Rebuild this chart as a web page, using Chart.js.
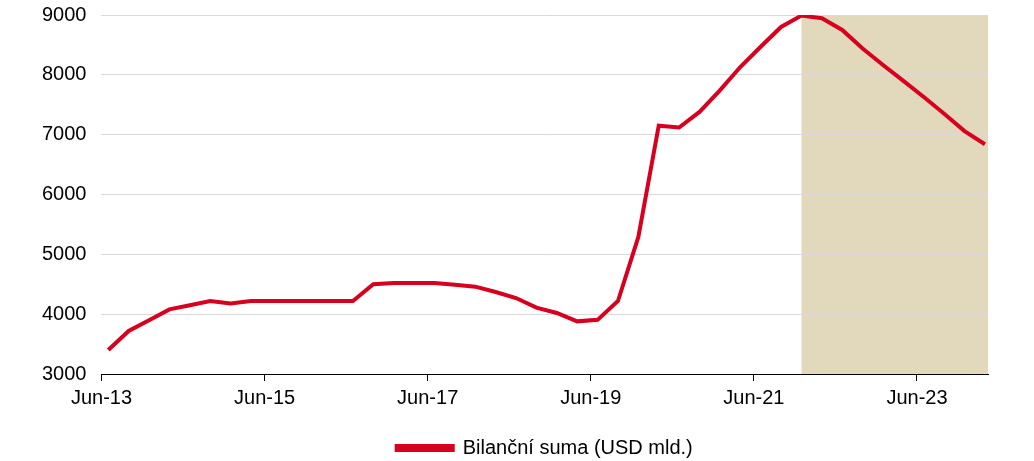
<!DOCTYPE html>
<html>
<head>
<meta charset="utf-8">
<script src="https://cdn.jsdelivr.net/npm/chart.js@4/dist/chart.umd.min.js"></script>
<style>
  html, body { margin: 0; padding: 0; background: #fff; }
  #wrap { width: 1034px; height: 461px; }
</style>
</head>
<body>
<div id="wrap"><canvas id="chart" width="1034" height="461"></canvas></div>
<script>
// quarterly observations (start of quarter)
const quarters = [
  "Jul-13", "Oct-13", "Jan-14", "Apr-14", "Jul-14", "Oct-14", "Jan-15", "Apr-15",
  "Jul-15", "Oct-15", "Jan-16", "Apr-16", "Jul-16", "Oct-16", "Jan-17", "Apr-17",
  "Jul-17", "Oct-17", "Jan-18", "Apr-18", "Jul-18", "Oct-18", "Jan-19", "Apr-19",
  "Jul-19", "Oct-19", "Jan-20", "Apr-20", "Jul-20", "Oct-20", "Jan-21", "Apr-21",
  "Jul-21", "Oct-21", "Jan-22", "Apr-22", "Jul-22", "Oct-22", "Jan-23", "Apr-23",
  "Jul-23", "Oct-23", "Jan-24", "Apr-24"
];

const balanceSheet = [
  3400, 3720, 3900, 4080, 4150, 4220, 4180, 4220,
  4220, 4220, 4220, 4220, 4220, 4500, 4520, 4520,
  4520, 4490, 4460, 4370, 4270, 4110, 4020, 3880,
  3905, 4220, 5290, 7150, 7120, 7380, 7740, 8130,
  8470, 8800, 8990, 8945, 8750, 8440, 8165, 7900,
  7630, 7350, 7060, 6840
];

const tickLabels = ["Jun-13", "Jun-15", "Jun-17", "Jun-19", "Jun-21", "Jun-23"];
const forecastFrom = "Jan-22";

const seriesLabel = "Bilanční suma (USD mld.)";

// "Jun-YY" sits one month before the "Jul-YY" observation
const tickValues = tickLabels.map(t => quarters.indexOf(t.replace("Jun", "Jul")) - 1 / 3);

const shadePlugin = {
  id: "forecastShade",
  beforeDraw(chart) {
    const { ctx, chartArea, scales } = chart;
    const left = scales.x.getPixelForValue(quarters.indexOf(forecastFrom));
    ctx.save();
    ctx.fillStyle = "#e2d9bc";
    ctx.fillRect(left, chartArea.top, chartArea.right - left, chartArea.bottom - chartArea.top);
    ctx.restore();
  }
};

Chart.defaults.font.family = "'Liberation Sans', Arial, sans-serif";
Chart.defaults.font.size = 20;
Chart.defaults.color = "#000";

new Chart(document.getElementById("chart"), {
  type: "line",
  data: {
    datasets: [{
      label: seriesLabel,
      data: balanceSheet.map((v, i) => ({ x: i, y: v })),
      borderColor: "#d7001e",
      backgroundColor: "#d7001e",
      borderWidth: 4,
      pointRadius: 0,
      tension: 0
    }]
  },
  options: {
    responsive: false,
    animation: false,
    layout: { padding: { left: 27, right: 46, top: 0, bottom: -7 } },
    scales: {
      x: {
        type: "linear",
        min: -1 / 3,
        max: 43.15,
        afterBuildTicks: axis => { axis.ticks = tickValues.map(v => ({ value: v })); },
        afterFit: axis => { axis.height += 21; },
        ticks: {
          autoSkip: false,
          maxRotation: 0,
          padding: 5,
          callback: (value, index) => tickLabels[index]
        },
        grid: { drawOnChartArea: false, tickLength: 7, color: "#000" },
        border: { color: "#000", width: 1 }
      },
      y: {
        min: 3000,
        max: 9000,
        afterFit: axis => { axis.paddingTop = 15; },
        ticks: { stepSize: 1000, padding: 15, callback: v => String(v) },
        grid: { color: "#d9d9d9", drawTicks: false },
        border: { display: false }
      }
    },
    plugins: {
      legend: {
        position: "bottom",
        fullSize: false,
        labels: { boxWidth: 56, boxHeight: 4, padding: 2 }
      },
      tooltip: { enabled: false }
    }
  },
  plugins: [shadePlugin]
});
</script>
</body>
</html>
